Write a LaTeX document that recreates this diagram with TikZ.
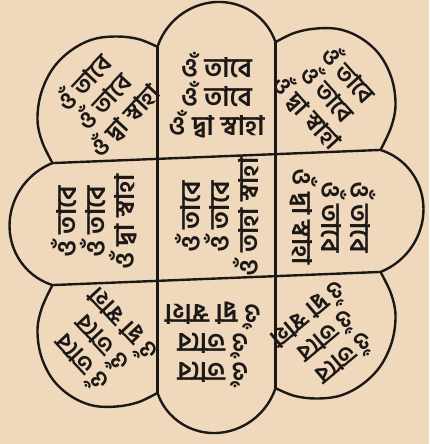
\documentclass[tikz,border=0pt]{standalone}
\usepackage{fontspec}
\newfontfamily\bn[Script=Bengali]{Hind Siliguri}
\definecolor{paper}{RGB}{239,216,188}
\definecolor{ink}{RGB}{28,24,22}
\begin{document}
\begin{tikzpicture}[x=1pt,y=1pt,
  outl/.style={draw=ink,line width=2.4pt,line join=round,line cap=round},
  mantra/.style={font=\bn\bfseries\fontsize{27}{29}\selectfont,text=ink,align=center,inner sep=0pt},
  lobetext/.style={mantra,font=\bn\bfseries\fontsize{25}{28}\selectfont}]
\fill[paper] (0,0) rectangle (429,-444);
\useasboundingbox (0,0) rectangle (429,-444);
\begin{scope}[shift={(216.5,-217.5)},cm={1,0.04,0,1,(0,0)}]
  % grid lines
  \draw[outl] (-59,-173) -- (-59,173);
  \draw[outl] (59,-173) -- (59,173);
  \draw[outl] (-164,61) -- (164,61);
  \draw[outl] (-164,-61) -- (164,-61);
  % arm ends
  \draw[outl] (-59,173) arc[start angle=161.5,end angle=18.5,radius=62.2];
  \draw[outl] (-59,-173) arc[start angle=-161.5,end angle=-18.5,radius=62.2];
  \draw[outl] (-164,61) arc[start angle=109.7,end angle=250.3,radius=64.8];
  \draw[outl] (164,61) arc[start angle=70.3,end angle=-70.3,radius=64.8];
  % corner lobes
  \foreach \sx/\sy in {1/1,-1/1,1/-1,-1/-1}{
    \begin{scope}[xscale=\sx,yscale=\sy]
      \draw[outl] plot[smooth,tension=0.6] coordinates {(-59,173) (-78,181.5) (-100,185) (-124,183) (-146,172.5) (-164,155) (-175.5,131) (-179,105) (-174.5,83) (-164,61)};
    \end{scope}
  }
  % texts
  \node[mantra,rotate=0]     (ttop) at (0,122)      {ওঁ তাবে\\ওঁ তাবে\\ওঁ দ্বা স্বাহা};
  \node[lobetext,rotate=47]  (ttl)  at (-113,121)   {ওঁ তাবে\\ওঁ তাবে\\ওঁ দ্বা স্বাহা};
  \node[lobetext,rotate=-48] (ttr)  at (112,120)    {ওঁ তাবে\\ওঁ তাবে\\ওঁ দ্বা স্বাহা};
  \node[mantra,rotate=90]    (tl)   at (-122,0.5)   {ওঁ তাবে\\ওঁ তাবে\\ওঁ দ্বা স্বাহা};
  \node[mantra,rotate=90]    (tc)   at (0,0.5)      {ওঁ তাবে\\ওঁ তাবে\\ওঁ তাহা স্বাহা};
  \node[mantra,rotate=-90]   (tr)   at (116,-4)     {ওঁ তাবে\\ওঁ তাবে\\ওঁ দ্বা স্বাহা};
  \node[lobetext,rotate=133] (tbl)  at (-115,-122)  {ওঁ তাবে\\ওঁ তাবে\\ওঁ দ্বা স্বাহা};
  \node[mantra,rotate=180]   (tbot) at (-3.5,-127)  {ওঁ তাবে\\ওঁ তাবে\\ওঁ দ্বা স্বাহা};
  \node[lobetext,rotate=220] (tbr)  at (111,-124)   {ওঁ তাবে\\ওঁ তাবে\\ওঁ দ্বা স্বাহা};
\end{scope}
\end{tikzpicture}
\end{document}
